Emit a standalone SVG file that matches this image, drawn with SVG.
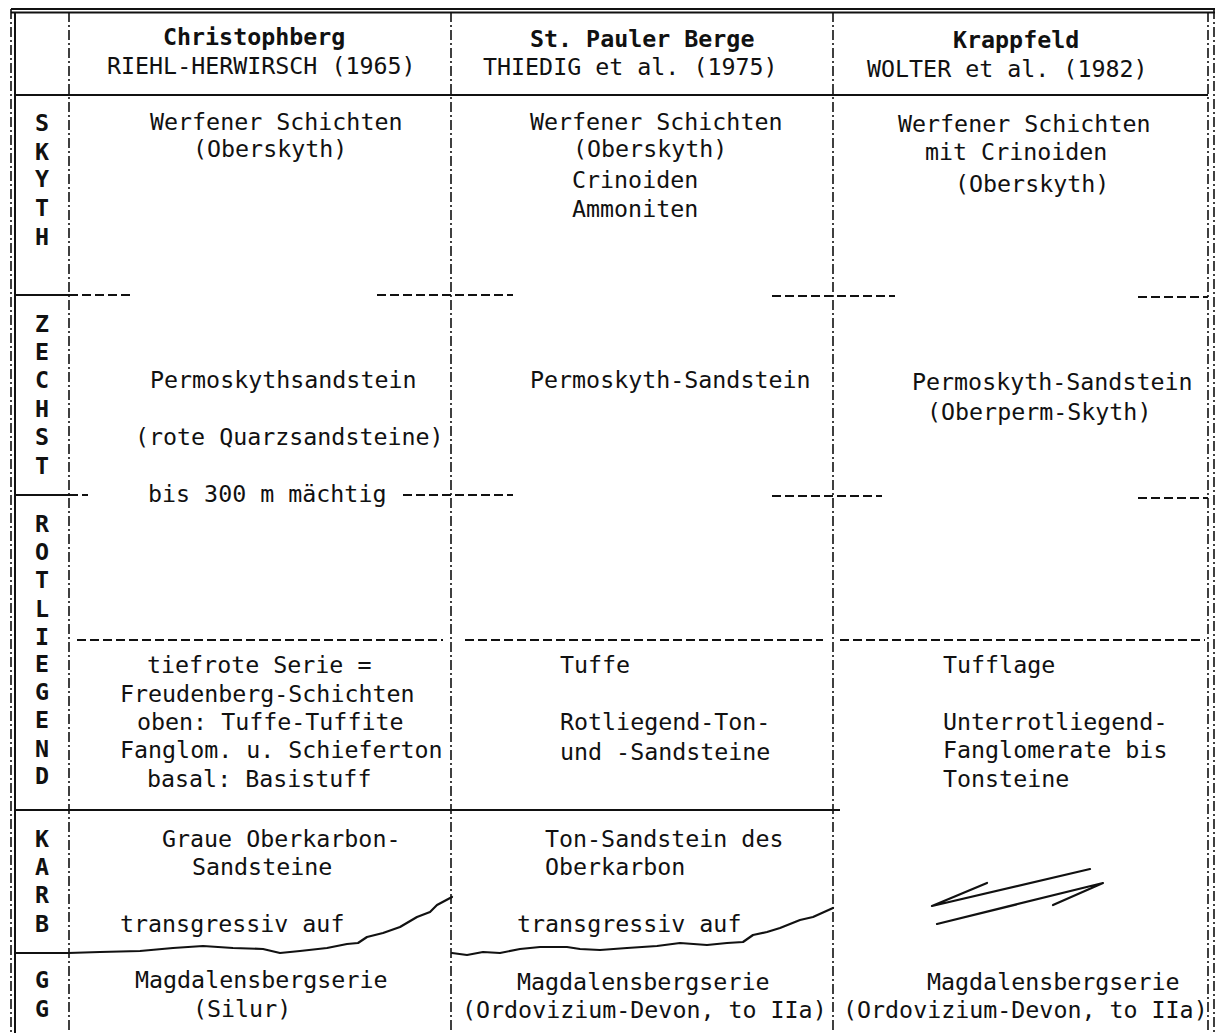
<svg xmlns="http://www.w3.org/2000/svg" width="1221" height="1033" viewBox="0 0 1221 1033">
<style>
text{font-family:"DejaVu Sans Mono","Liberation Mono",monospace;font-size:23.3px;fill:#111}
.b{font-weight:bold}
.c{text-anchor:middle;font-weight:bold}
.s{stroke:#111;stroke-width:2;fill:none}
.d{stroke:#111;stroke-width:2.2;fill:none;stroke-dasharray:9 4}
.dd{stroke:#111;stroke-width:1.6;fill:none;stroke-dasharray:10 3 2 3}
.w{stroke:#111;stroke-width:2.2;fill:none;stroke-linejoin:round;stroke-linecap:round}
</style>
<rect width="1221" height="1033" fill="#fff"/>
<g id="frame">
<line class="s" x1="11" y1="9" x2="1215" y2="9" stroke-width="1.4"/>
<line class="s" x1="11" y1="12.5" x2="1215" y2="12.5"/>
<line class="dd" x1="11" y1="9" x2="11" y2="1033"/>
<line class="s" x1="15" y1="12" x2="15" y2="1033"/>
<line class="dd" x1="1208" y1="12" x2="1208" y2="1033"/>
<line class="dd" x1="1214" y1="9" x2="1214" y2="1033"/>
<line class="dd" x1="69" y1="12" x2="69" y2="1033"/>
<line class="dd" x1="451" y1="12" x2="451" y2="1033"/>
<line class="dd" x1="833" y1="12" x2="833" y2="1033"/>
<line class="s" x1="15" y1="95" x2="1208" y2="95"/>
</g>
<g id="connectors">
<line class="s" x1="15" y1="295" x2="69" y2="295"/>
<line class="d" x1="69" y1="295" x2="133" y2="295"/>
<line class="d" x1="377" y1="295" x2="513" y2="295"/>
<line class="d" x1="772" y1="296" x2="895" y2="296"/>
<line class="d" x1="1138" y1="297" x2="1208" y2="297"/>
<line class="s" x1="15" y1="495" x2="69" y2="495"/>
<line class="d" x1="69" y1="495" x2="88" y2="495"/>
<line class="d" x1="403" y1="495" x2="513" y2="495"/>
<line class="d" x1="772" y1="496" x2="882" y2="496"/>
<line class="d" x1="1138" y1="498" x2="1208" y2="498"/>
<line class="d" x1="77" y1="640" x2="443" y2="640"/>
<line class="d" x1="465" y1="640" x2="823" y2="640"/>
<line class="d" x1="840" y1="640" x2="1205" y2="640"/>
<line class="s" x1="15" y1="810" x2="840" y2="810"/>
<line class="s" x1="15" y1="953" x2="69" y2="953"/>
<path class="w" d="M68,953 L100,952 L140,951 L173,948 L203,946 L233,948 L263,949 L280,953 L300,951 L327,948 L347,944 L358,943 L367,937 L383,933 L400,927 L417,917 L430,912 L437,905 L452,897"/>
<path class="w" d="M452,953 L467,955 L483,952 L500,953 L520,949 L540,947 L567,947 L580,949 L600,950 L627,948 L657,946 L680,943 L707,945 L727,943 L743,942 L753,935 L767,932 L780,928 L800,920 L813,917 L833,908"/>
<path class="w" stroke-width="3" d="M987,883 L932,906 L1090,869"/>
<path class="w" stroke-width="3" d="M937,924 L1103,883 L1053,905"/>
</g>
<g id="col0">
<text class="c" x="42" y="131">S</text><text class="c" x="42" y="160">K</text><text class="c" x="42" y="187">Y</text><text class="c" x="42" y="216">T</text><text class="c" x="42" y="245">H</text>
<text class="c" x="42" y="332">Z</text><text class="c" x="42" y="360">E</text><text class="c" x="42" y="388">C</text><text class="c" x="42" y="417">H</text><text class="c" x="42" y="445">S</text><text class="c" x="42" y="474">T</text>
<text class="c" x="42" y="532">R</text><text class="c" x="42" y="560">O</text><text class="c" x="42" y="588">T</text><text class="c" x="42" y="617">L</text><text class="c" x="42" y="645">I</text><text class="c" x="42" y="672">E</text><text class="c" x="42" y="700">G</text><text class="c" x="42" y="728">E</text><text class="c" x="42" y="757">N</text><text class="c" x="42" y="784">D</text>
<text class="c" x="42" y="847">K</text><text class="c" x="42" y="875">A</text><text class="c" x="42" y="903">R</text><text class="c" x="42" y="932">B</text>
<text class="c" x="42" y="988">G</text><text class="c" x="42" y="1017">G</text>
</g>
<g id="col1">
<text class="b" x="163" y="45">Christophberg</text>
<text x="107" y="74">RIEHL-HERWIRSCH (1965)</text>
<text x="150" y="130">Werfener Schichten</text>
<text x="193" y="157">(Oberskyth)</text>
<text x="150" y="388">Permoskythsandstein</text>
<text x="135" y="445">(rote Quarzsandsteine)</text>
<text x="148" y="502">bis 300 m mächtig</text>
<text x="147" y="673">tiefrote Serie =</text>
<text x="120" y="702">Freudenberg-Schichten</text>
<text x="137" y="730">oben: Tuffe-Tuffite</text>
<text x="120" y="758">Fanglom. u. Schieferton</text>
<text x="147" y="787">basal: Basistuff</text>
<text x="162" y="847">Graue Oberkarbon-</text>
<text x="192" y="875">Sandsteine</text>
<text x="120" y="932">transgressiv auf</text>
<text x="135" y="988">Magdalensbergserie</text>
<text x="193" y="1017">(Silur)</text>
</g>
<g id="col2">
<text class="b" x="530" y="47">St. Pauler Berge</text>
<text x="483" y="75">THIEDIG et al. (1975)</text>
<text x="530" y="130">Werfener Schichten</text>
<text x="573" y="157">(Oberskyth)</text>
<text x="572" y="188">Crinoiden</text>
<text x="572" y="217">Ammoniten</text>
<text x="530" y="388">Permoskyth-Sandstein</text>
<text x="560" y="673">Tuffe</text>
<text x="560" y="730">Rotliegend-Ton-</text>
<text x="560" y="760">und -Sandsteine</text>
<text x="545" y="847">Ton-Sandstein des</text>
<text x="545" y="875">Oberkarbon</text>
<text x="517" y="932">transgressiv auf</text>
<text x="517" y="990">Magdalensbergserie</text>
<text x="462" y="1018">(Ordovizium-Devon, to IIa)</text>
</g>
<g id="col3">
<text class="b" x="953" y="48">Krappfeld</text>
<text x="867" y="77">WOLTER et al. (1982)</text>
<text x="898" y="132">Werfener Schichten</text>
<text x="925" y="160">mit Crinoiden</text>
<text x="955" y="192">(Oberskyth)</text>
<text x="912" y="390">Permoskyth-Sandstein</text>
<text x="927" y="420">(Oberperm-Skyth)</text>
<text x="943" y="673">Tufflage</text>
<text x="943" y="730">Unterrotliegend-</text>
<text x="943" y="758">Fanglomerate bis</text>
<text x="943" y="787">Tonsteine</text>
<text x="927" y="990">Magdalensbergserie</text>
<text x="843" y="1018">(Ordovizium-Devon, to IIa)</text>
</g>
</svg>
